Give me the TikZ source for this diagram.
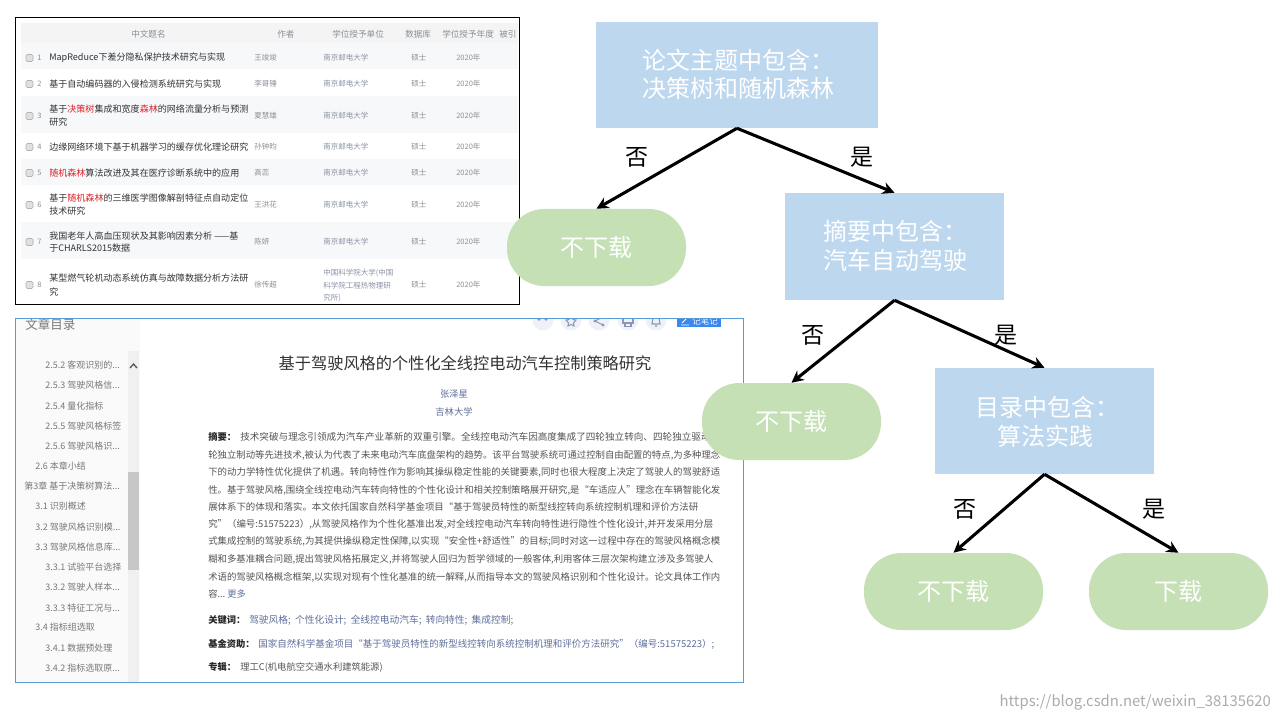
\documentclass[tikz,border=0pt]{standalone}
\usepackage{fontspec}
\usepackage{graphicx}
\usetikzlibrary{arrows.meta}
\setmainfont{Noto Sans CJK SC}
\newcommand{\pxf}[1]{\fontsize{\dimexpr#1pt*3/4\relax}{\dimexpr#1pt\relax}\selectfont}
\newcommand{\wbox}[2]{\resizebox{\dimexpr#1pt*3/4\relax}{!}{#2}}
\definecolor{boxblue}{HTML}{BDD7EE}
\definecolor{boxgreen}{HTML}{C5E0B4}
\definecolor{framemid}{HTML}{5B9BD5}
\definecolor{rowshade}{HTML}{F7F8FA}
\definecolor{headshade}{HTML}{F4F4F4}
\definecolor{headtxt}{HTML}{8A8F99}
\definecolor{titletxt}{HTML}{333333}
\definecolor{greytxt}{HTML}{8C8F96}
\definecolor{unitxt}{HTML}{8A92A8}
\definecolor{hitred}{HTML}{D8232A}
\definecolor{toctxt}{HTML}{777777}
\definecolor{bodytxt}{HTML}{555555}
\definecolor{linktxt}{HTML}{60709C}
\definecolor{iconbg}{HTML}{EEF1F8}
\definecolor{iconfg}{HTML}{8C97B5}
\definecolor{btnblue}{HTML}{3B87F0}
\tikzset{
  cond/.style={fill=boxblue,draw=none,inner sep=0pt,rectangle},
  leaf/.style={fill=boxgreen,draw=none,inner sep=0pt,rectangle,rounded corners=28pt,text=white,font=\pxf{24}},
  treetxt/.style={text=white,font=\pxf{24},anchor=west,inner sep=0pt},
  treelab/.style={text=black,font=\pxf{23},inner sep=0pt,yshift=-0.75pt},
  edge/.style={draw=black,line width=2.3pt,-{Stealth[length=9pt,width=9pt]}},
  tt/.style={anchor=west,inner sep=0pt,text=titletxt,font=\pxf{9.05}},
  gt/.style={anchor=west,inner sep=0pt,text=greytxt,font=\pxf{7.5}},
  ht/.style={anchor=west,inner sep=0pt,text=headtxt,font=\pxf{8.6}},
  toc/.style={anchor=west,inner sep=0pt,text=toctxt,font=\pxf{9}},
  body/.style={anchor=west,inner sep=0pt,text=bodytxt,font=\pxf{9.3}},
  bold/.style={anchor=west,inner sep=0pt,text=black!85,font=\pxf{9.3}\bfseries},
  link/.style={anchor=west,inner sep=0pt,text=linktxt,font=\pxf{9.3}},
}
\newcommand{\ck}[2]{% checkbox and number
  \draw[fill=black!12,draw=black!30,rounded corners=1pt] (26,#1-3.5) rectangle (33,#1+3.5);
  \node[gt,text=black!45] at (37,#1) {#2};}
\newcommand{\meta}[2]{\node[gt] at (254,#1) {#2};
  \node[gt,text=unitxt] at (323,#1) {南京邮电大学};
  \node[gt] at (411,#1) {硕士};
  \node[gt] at (456,#1) {2020年};}
\newcommand{\hit}[1]{\textcolor{hitred}{#1}}
\newcommand{\para}[3]{\node[body] at (208,#1) {\wbox{#2}{#3}};}
\begin{document}
\begin{tikzpicture}[x=0.75pt,y=-0.75pt]
\useasboundingbox (0,0) rectangle (1280,720);
\fill[white] (0,0) rectangle (1280,720);

% ---------- table screenshot
\fill[headshade] (21,23) rectangle (518,43);
\fill[rowshade] (21,43) rectangle (518,69);
\fill[rowshade] (21,96) rectangle (518,133);
\fill[rowshade] (21,159) rectangle (518,185);
\fill[rowshade] (21,222) rectangle (518,259);
\begin{scope}[yshift=-0.75pt]
\node[ht] at (131,33) {中文题名};
\node[ht] at (277,33) {作者};
\node[ht] at (332,33) {学位授予单位};
\node[ht] at (405,33) {数据库};
\node[ht] at (442,33) {学位授予年度};
\node[ht] at (499,33) {被引};

\ck{57}{1} \node[tt] at (49,57) {MapReduce下差分隐私保护技术研究与实现}; \meta{57}{王竣竣}
\ck{83}{2} \node[tt] at (49,83) {基于自动编码器的入侵检测系统研究与实现}; \meta{83}{李哥锤}
\ck{115}{3} \node[tt] at (49,108.5) {基于\hit{决策树}集成和宽度\hit{森林}的网络流量分析与预测}; \node[tt] at (49,121) {研究}; \meta{115}{夏慧雄}
\ck{146}{4} \node[tt] at (49,146) {边缘网络环境下基于机器学习的缓存优化理论研究}; \meta{146}{孙钟昀}
\ck{172}{5} \node[tt] at (49,172) {\hit{随机森林}算法改进及其在医疗诊断系统中的应用}; \meta{172}{高蕊}
\ck{204}{6} \node[tt] at (49,197.5) {基于\hit{随机森林}的三维医学图像解剖特征点自动定位}; \node[tt] at (49,210) {技术研究}; \meta{204}{王洪花}
\ck{241}{7} \node[tt] at (49,235) {我国老年人高血压现状及其影响因素分析 ——基}; \node[tt] at (49,247) {于CHARLS2015数据}; \meta{241}{陈妍}
\ck{284}{8} \node[tt] at (49,277) {某型燃气轮机动态系统仿真与故障数据分析方法研}; \node[tt] at (49,291) {究};
\node[gt] at (254,284) {徐传超};
\node[gt,text=unitxt] at (323,272.5) {中国科学院大学(中国};
\node[gt,text=unitxt] at (323,285) {科学院工程热物理研};
\node[gt,text=unitxt] at (323,297.5) {究所)};
\node[gt] at (411,284) {硕士};
\node[gt] at (456,284) {2020年};
\end{scope}
\draw[black,line width=0.75pt] (15,18) rectangle (519,304);

% ---------- article screenshot
\fill[black!2] (16,318) rectangle (140,682);
\fill[black!6] (128,351) rectangle (139,682);
\fill[black!22] (128,472) rectangle (139,570);
\draw[black!65,line width=1pt] (130,368) -- (133.5,364) -- (137,368);
\node[toc,font=\pxf{12.5}] at (25,325) {文章目录};
\begin{scope}[yshift=-0.6pt]
\node[toc] at (45,364.5) {2.5.2 客观识别的...};
\node[toc] at (45,384.7) {2.5.3 驾驶风格信...};
\node[toc] at (45,405) {2.5.4 量化指标};
\node[toc] at (45,425) {2.5.5 驾驶风格标签};
\node[toc] at (45,445) {2.5.6 驾驶风格识...};
\node[toc] at (35,465) {2.6 本章小结};
\node[toc] at (24,485) {第3章 基于决策树算法...};
\node[toc] at (35,505) {3.1 识别概述};
\node[toc] at (35,526) {3.2 驾驶风格识别模...};
\node[toc] at (35,546) {3.3 驾驶风格信息库...};
\node[toc] at (45,566) {3.3.1 试验平台选择};
\node[toc] at (45,586.5) {3.3.2 驾驶人样本...};
\node[toc] at (45,607) {3.3.3 特征工况与...};
\node[toc] at (35,626) {3.4 指标组选取};
\node[toc] at (45,647) {3.4.1 数据预处理};
\node[toc] at (45,667) {3.4.2 指标选取原...};
\end{scope}

\begin{scope}
\clip (16,318) rectangle (743,682);
\foreach \cx in {543,571,599,628,656} \fill[iconbg] (\cx,320) circle (10.5);
\fill[iconfg] (539,319) circle (1.8) (546,319) circle (1.8);
\draw[iconfg,line width=0.8pt] (571,315.5) -- (573,319.5) -- (576,320) -- (573.5,323) -- (574,326) -- (571,324.5) -- (568,326) -- (568.5,323) -- (566,320) -- (569,319.5) -- cycle;
\fill[iconfg] (595,321) circle (1.7) (603,317) circle (1.7) (603,325) circle (1.7);
\draw[iconfg,line width=0.8pt] (595,321) -- (603,317) (595,321) -- (603,325);
\draw[iconfg,line width=0.8pt] (623,318) rectangle (633,323) (625,323) rectangle (631,326.5);
\draw[iconfg,line width=0.8pt] (652,324) -- (653,318) -- (659,318) -- (660,324) -- cycle (655,326) -- (657,326);
\fill[btnblue] (677,312) rectangle (721,327);
\node[anchor=west,inner sep=0pt,text=white,font=\pxf{8.5}] at (692,321) {记笔记};
\draw[white,line width=0.7pt] (681,325) -- (689,325) (682,323) -- (688,317);
\end{scope}
\node[anchor=center,inner sep=0pt,text=titletxt,font=\pxf{16.2}] at (465,363) {基于驾驶风格的个性化全线控电动汽车控制策略研究};
\node[anchor=center,inner sep=0pt,text=linktxt,font=\pxf{9.3}] at (454,394) {张泽星};
\node[anchor=center,inner sep=0pt,text=linktxt,font=\pxf{9.3}] at (454,412) {吉林大学};

\begin{scope}[yshift=-0.75pt]
\node[bold] at (208,436) {摘要：};
\node[body] at (240,436) {\wbox{480}{技术突破与理念引领成为汽车产业革新的双重引擎。全线控电动汽车因高度集成了四轮独立转向、四轮独立驱动和}};
\para{454}{512}{轮独立制动等先进技术,被认为代表了未来电动汽车底盘架构的趋势。该平台驾驶系统可通过控制自由配置的特点,为多种理念}
\para{471}{512}{下的动力学特性优化提供了机遇。转向特性作为影响其操纵稳定性能的关键要素,同时也很大程度上决定了驾驶人的驾驶舒适}
\para{489}{512}{性。基于驾驶风格,围绕全线控电动汽车转向特性的个性化设计和相关控制策略展开研究,是“车适应人”理念在车辆智能化发}
\para{506}{490}{展体系下的体现和落实。本文依托国家自然科学基金项目“基于驾驶员特性的新型线控转向系统控制机理和评价方法研}
\para{523}{505}{究”（编号:51575223）,从驾驶风格作为个性化基准出发,对全线控电动汽车转向特性进行隐性个性化设计,并开发采用分层}
\para{540}{512}{式集成控制的驾驶系统,为其提供操纵稳定性保障,以实现“安全性+舒适性”的目标;同时对这一过程中存在的驾驶风格概念模}
\para{558}{505}{糊和多基准耦合问题,提出驾驶风格拓展定义,并将驾驶人回归为哲学领域的一般客体,利用客体三层次架构建立涉及多驾驶人}
\para{576}{512}{术语的驾驶风格概念框架,以实现对现有个性化基准的统一解释,从而指导本文的驾驶风格识别和个性化设计。论文具体工作内}
\node[body] at (208,593) {容...};
\node[link] at (227,593) {更多};
\node[bold] at (208,619) {关键词：};
\node[link] at (249,619) {\wbox{264}{驾驶风格;\ \ 个性化设计;\ \ 全线控电动汽车;\ \ 转向特性;\ \ 集成控制;}};
\node[bold] at (208,643) {基金资助：};
\node[link] at (258,643) {\wbox{456}{国家自然科学基金项目“基于驾驶员特性的新型线控转向系统控制机理和评价方法研究”（编号:51575223）;}};
\node[bold] at (208,666) {专辑：};
\node[body] at (240,666) {理工C(机电航空交通水利建筑能源)};
\end{scope}
\draw[framemid,line width=0.75pt] (15,318) rectangle (743,682);

% ---------- decision tree
\node[cond,minimum width=282*0.75pt,minimum height=106*0.75pt] (b1) at (737,75) {};
\node[cond,minimum width=219*0.75pt,minimum height=107*0.75pt] (b2) at (894.5,246.5) {};
\node[cond,minimum width=219*0.75pt,minimum height=106*0.75pt] (b3) at (1044.5,421) {};
\node[leaf,minimum width=179*0.75pt,minimum height=77*0.75pt] (e1) at (596.5,247.5) {不下载};
\node[leaf,minimum width=179*0.75pt,minimum height=77*0.75pt] (e2) at (791.5,421.5) {不下载};
\node[leaf,minimum width=179*0.75pt,minimum height=77*0.75pt] (e3) at (953.5,591.5) {不下载};
\node[leaf,minimum width=179*0.75pt,minimum height=77*0.75pt] (e4) at (1178.5,591.5) {下载};
\node[treetxt] (t1a) at (642,60) {论文主题中包含：};
\node[treetxt] (t1b) at (642,88) {决策树和随机森林};
\node[treetxt] (t2a) at (823,231) {摘要中包含：};
\node[treetxt] (t2b) at (823,260) {汽车自动驾驶};
\node[treetxt] (t3a) at (975,407) {目录中包含：};
\node[treetxt] (t3b) at (997,436) {算法实践};
\draw[edge] (b1.south) -- (e1.north);
\draw[edge] (b1.south) -- (b2.north);
\draw[edge] (b2.south) -- (e2.north);
\draw[edge] (b2.south) -- (b3.north);
\draw[edge] (b3.south) -- (e3.north);
\draw[edge] (b3.south) -- (e4.north);
\node[treelab] (l1) at (637,156) {否};
\node[treelab] (l2) at (862,156) {是};
\node[treelab] (l3) at (813,334) {否};
\node[treelab] (l4) at (1006,334) {是};
\node[treelab] (l5) at (965,508) {否};
\node[treelab] (l6) at (1154,508) {是};
\node[anchor=east,inner sep=0pt,text=black!33,font=\pxf{14.85}] (wm) at (1271,702) {https://blog.csdn.net/weixin\_38135620};
\end{tikzpicture}
\end{document}
